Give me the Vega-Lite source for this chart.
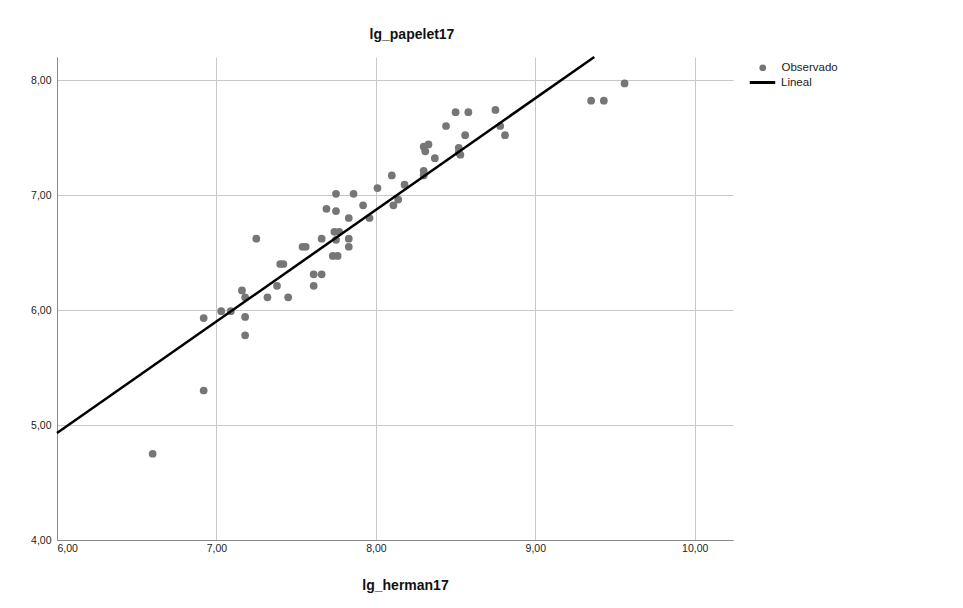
{
  "$schema": "https://vega.github.io/schema/vega-lite/v6.json",
  "autosize": {"type": "none"},
  "width": 676,
  "height": 483,
  "padding": {"left": 57, "top": 57, "right": 230, "bottom": 68},
  "background": "white",
  "config": {
    "locale": {"number": {"decimal": ",", "thousands": ".", "grouping": [3], "currency": ["", " €"]}},
    "font": "Liberation Sans",
    "view": {"stroke": null},
    "axis": {
      "gridColor": "#c8c8c8",
      "gridWidth": 1,
      "domainColor": "#8a8a8a",
      "domainWidth": 1,
      "ticks": false,
      "labelFont": "Liberation Sans",
      "labelFontSize": 10.5,
      "labelColor": "#222222",
      "titleFont": "Liberation Sans",
      "titleFontSize": 14,
      "titleFontWeight": "bold",
      "titleColor": "#111111"
    },
    "legend": {
      "labelFont": "Liberation Sans",
      "labelFontSize": 11.5,
      "labelColor": "#222222",
      "padding": 0
    }
  },
  "title": {
    "text": "lg_papelet17",
    "font": "Liberation Sans",
    "fontSize": 14,
    "fontWeight": "bold",
    "color": "#111111",
    "anchor": "middle",
    "offset": 10,
    "dx": 17
  },
  "datasets": {
    "obs": [
      {"x": 6.60, "y": 4.75}, {"x": 6.92, "y": 5.30}, {"x": 6.92, "y": 5.93},
      {"x": 7.03, "y": 5.99}, {"x": 7.09, "y": 5.99}, {"x": 7.16, "y": 6.17},
      {"x": 7.18, "y": 6.11}, {"x": 7.18, "y": 5.94}, {"x": 7.18, "y": 5.78},
      {"x": 7.25, "y": 6.62}, {"x": 7.32, "y": 6.11}, {"x": 7.38, "y": 6.21},
      {"x": 7.40, "y": 6.40}, {"x": 7.42, "y": 6.40}, {"x": 7.45, "y": 6.11},
      {"x": 7.54, "y": 6.55}, {"x": 7.56, "y": 6.55}, {"x": 7.61, "y": 6.31},
      {"x": 7.61, "y": 6.21}, {"x": 7.66, "y": 6.31}, {"x": 7.66, "y": 6.62},
      {"x": 7.69, "y": 6.88}, {"x": 7.75, "y": 7.01}, {"x": 7.75, "y": 6.86},
      {"x": 7.73, "y": 6.47}, {"x": 7.76, "y": 6.47}, {"x": 7.74, "y": 6.68},
      {"x": 7.77, "y": 6.68}, {"x": 7.75, "y": 6.61}, {"x": 7.83, "y": 6.80},
      {"x": 7.83, "y": 6.62}, {"x": 7.83, "y": 6.55}, {"x": 7.86, "y": 7.01},
      {"x": 7.92, "y": 6.91}, {"x": 7.96, "y": 6.80}, {"x": 8.01, "y": 7.06},
      {"x": 8.10, "y": 7.17}, {"x": 8.11, "y": 6.91}, {"x": 8.14, "y": 6.96},
      {"x": 8.18, "y": 7.09}, {"x": 8.30, "y": 7.21}, {"x": 8.30, "y": 7.17},
      {"x": 8.30, "y": 7.42}, {"x": 8.33, "y": 7.44}, {"x": 8.31, "y": 7.38},
      {"x": 8.37, "y": 7.32}, {"x": 8.44, "y": 7.60}, {"x": 8.50, "y": 7.72},
      {"x": 8.52, "y": 7.41}, {"x": 8.53, "y": 7.35}, {"x": 8.52, "y": 7.37},
      {"x": 8.56, "y": 7.52}, {"x": 8.58, "y": 7.72}, {"x": 8.75, "y": 7.74},
      {"x": 8.78, "y": 7.60}, {"x": 8.81, "y": 7.52}, {"x": 9.35, "y": 7.82},
      {"x": 9.43, "y": 7.82}, {"x": 9.56, "y": 7.97}
    ],
    "fit": [
      {"x": 6.0, "y": 4.93},
      {"x": 9.37, "y": 8.2}
    ]
  },
  "layer": [
    {
      "data": {"name": "obs"},
      "transform": [{"calculate": "'Observado'", "as": "serie"}],
      "mark": {"type": "point", "filled": true, "size": 60, "opacity": 1},
      "encoding": {
        "x": {
          "field": "x", "type": "quantitative",
          "scale": {"domain": [6, 10.24], "nice": false, "zero": false},
          "axis": {"values": [6, 7, 8, 9, 10], "format": ".2f", "title": "lg_herman17", "titlePadding": 25, "titleX": 348, "labelPadding": 3}
        },
        "y": {
          "field": "y", "type": "quantitative",
          "scale": {"domain": [4, 8.2], "nice": false, "zero": false},
          "axis": {"values": [4, 5, 6, 7, 8], "format": ".2f", "title": null, "labelPadding": 6}
        },
        "color": {
          "field": "serie", "type": "nominal",
          "scale": {"domain": ["Observado"], "range": ["#767676"]},
          "legend": {
            "title": null,
            "orient": "none",
            "legendX": 700,
            "legendY": 5,
            "symbolSize": 45,
            "labelOffset": 13
          }
        }
      }
    },
    {
      "data": {"name": "fit"},
      "transform": [{"calculate": "'Lineal'", "as": "serie"}],
      "mark": {"type": "line", "strokeWidth": 2.5, "color": "#000000"},
      "encoding": {
        "x": {"field": "x", "type": "quantitative"},
        "y": {"field": "y", "type": "quantitative"},
        "color": {
          "field": "serie", "type": "nominal",
          "scale": {"domain": ["Lineal"], "range": ["#000000"]},
          "legend": {
            "title": null,
            "orient": "none",
            "legendX": 691,
            "legendY": 11,
            "symbolSize": 650,
            "symbolStrokeWidth": 3,
            "labelOffset": 4
          }
        }
      }
    }
  ],
  "resolve": {"scale": {"color": "independent"}, "legend": {"color": "independent"}}
}
